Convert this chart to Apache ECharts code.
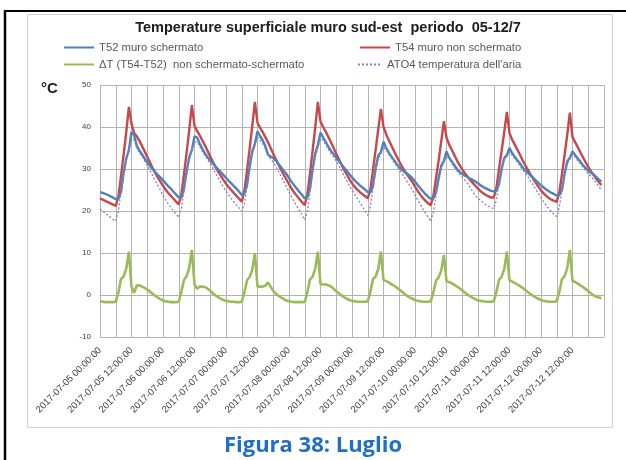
<!DOCTYPE html>
<html>
<head>
<meta charset="utf-8">
<script src="https://cdn.jsdelivr.net/npm/echarts@6/dist/echarts.min.js"></script>
<style>
html,body{margin:0;padding:0;background:#fff;}
#main{width:626px;height:460px;}
</style>
</head>
<body>
<div id="main"></div>
<script>
// Days of the period (hourly readings)
const days = ['2017-07-05','2017-07-06','2017-07-07','2017-07-08','2017-07-09','2017-07-10','2017-07-11','2017-07-12'];
const endLabel = '2017-07-13 00:00:00';
const yTicks = {min: -10, max: 50, step: 10};

// T54 muro non schermato (hourly, one row per day)
const T54 = [
 23.0,22.7,22.4,22.1,21.8,21.5,21.2,23.5,28.3,33.4,38.8,44.8,40.8,38.6,37.8,36.7,35.5,34.2,32.9,31.6,30.3,29.1,28.0,27.0,
 26.0,25.1,24.3,23.6,22.9,22.2,21.6,24.0,28.8,33.9,39.3,45.2,40.3,39.0,38.0,36.8,35.6,34.3,33.0,31.7,30.5,29.4,28.4,27.4,
 26.5,25.7,25.0,24.3,23.6,22.9,22.2,24.8,29.6,34.8,40.2,46.0,41.0,39.8,38.8,37.6,36.4,35.0,33.6,32.3,31.0,29.8,28.6,27.5,
 26.4,25.3,24.4,23.6,22.8,22.1,21.4,24.0,29.0,34.4,40.0,46.0,41.3,40.0,38.9,37.6,36.3,35.0,33.6,32.3,31.0,29.8,28.7,27.6,
 26.6,25.8,25.1,24.5,24.0,23.5,23.0,25.2,29.8,34.6,39.4,44.3,40.1,38.3,36.9,35.6,34.3,33.0,31.8,30.6,29.6,28.7,27.8,26.9,
 25.8,24.8,23.9,23.1,22.4,21.8,21.4,23.6,27.8,32.0,36.6,41.4,37.5,35.8,34.6,33.3,32.0,30.9,29.9,29.0,28.2,27.4,26.7,26.0,
 25.3,24.7,24.2,23.8,23.5,23.2,23.2,25.5,30.0,34.3,38.8,43.6,38.5,37.0,35.8,34.6,33.4,32.1,30.9,29.8,28.7,27.7,26.7,25.8,
 24.9,24.2,23.6,23.1,22.7,22.4,22.2,24.6,28.8,33.4,38.2,43.4,37.6,36.4,35.2,34.0,32.8,31.6,30.5,29.5,28.6,27.7,26.9,26.2
];
// T52 muro schermato
const T52 = [
 24.5,24.3,24.1,23.8,23.5,23.2,22.8,22.9,24.5,29.0,32.5,34.5,38.8,38.1,35.5,34.4,33.5,32.5,31.6,30.8,30.0,29.3,28.6,28.0,
 27.3,26.6,25.9,25.3,24.6,23.9,23.2,23.2,25.2,29.4,32.8,34.5,37.8,37.5,36.0,34.8,33.7,32.8,32.0,31.3,30.6,29.9,29.3,28.6,
 27.9,27.2,26.6,25.9,25.3,24.6,23.8,24.2,26.1,30.5,34.2,36.0,39.0,37.8,36.8,35.4,33.4,33.0,32.6,32.0,31.2,30.4,29.6,28.8,
 27.9,26.9,26.1,25.3,24.5,23.8,23.0,23.3,25.3,30.0,33.7,35.7,38.7,37.5,36.4,35.3,34.3,33.5,32.7,31.9,31.1,30.3,29.6,28.8,
 28.0,27.3,26.7,26.1,25.6,25.1,24.5,24.4,26.0,30.2,33.2,34.0,36.5,35.0,33.9,33.0,32.1,31.2,30.5,29.8,29.3,28.9,28.4,27.8,
 27.0,26.2,25.4,24.7,24.0,23.4,22.9,23.0,24.4,27.8,30.8,31.9,34.2,32.7,31.8,30.9,30.0,29.3,28.8,28.4,28.1,27.7,27.4,27.0,
 26.6,26.1,25.7,25.4,25.1,24.8,24.7,24.8,26.4,30.0,32.6,33.3,35.0,33.8,32.9,32.1,31.3,30.4,29.7,29.1,28.5,27.9,27.3,26.7,
 26.1,25.6,25.1,24.7,24.3,24.0,23.7,23.8,25.0,28.9,31.8,32.7,34.2,33.3,32.5,31.7,30.9,30.2,29.6,29.1,28.7,28.1,27.5,27.0
];
// ΔT (T54-T52) non schermato-schermato
const DT = [
 -1.5,-1.6,-1.7,-1.7,-1.7,-1.7,-1.6,0.6,3.8,4.4,6.3,10.3,2.0,0.5,2.3,2.3,2.0,1.7,1.3,0.8,0.3,-0.2,-0.6,-1.0,
 -1.3,-1.5,-1.6,-1.7,-1.7,-1.7,-1.6,0.8,3.6,4.5,6.5,10.7,2.5,1.5,2.0,2.0,1.9,1.5,1.0,0.4,-0.1,-0.5,-0.9,-1.2,
 -1.4,-1.5,-1.6,-1.6,-1.7,-1.7,-1.6,0.6,3.5,4.3,6.0,10.0,2.0,2.0,2.0,2.2,3.0,2.0,1.0,0.3,-0.2,-0.6,-1.0,-1.3,
 -1.5,-1.6,-1.7,-1.7,-1.7,-1.7,-1.6,0.7,3.7,4.4,6.3,10.3,2.6,2.5,2.5,2.3,2.0,1.5,0.9,0.4,-0.1,-0.5,-0.9,-1.2,
 -1.4,-1.5,-1.6,-1.6,-1.6,-1.6,-1.5,0.8,3.8,4.4,6.2,10.3,3.6,3.3,3.0,2.6,2.2,1.8,1.3,0.8,0.3,-0.2,-0.6,-0.9,
 -1.2,-1.4,-1.5,-1.6,-1.6,-1.6,-1.5,0.6,3.4,4.2,5.8,9.5,3.3,3.1,2.8,2.4,2.0,1.6,1.1,0.6,0.1,-0.3,-0.7,-1.0,
 -1.3,-1.4,-1.5,-1.6,-1.6,-1.6,-1.5,0.7,3.6,4.3,6.2,10.3,3.5,3.2,2.9,2.5,2.1,1.7,1.2,0.7,0.2,-0.2,-0.6,-0.9,
 -1.2,-1.4,-1.5,-1.6,-1.6,-1.6,-1.5,0.8,3.8,4.5,6.4,10.7,3.4,3.1,2.7,2.3,1.9,1.4,0.9,0.4,-0.1,-0.4,-0.6,-0.8
];
// ATO4 temperatura dell'aria
const ATO4 = [
 20.5,20.0,19.5,19.0,18.5,18.0,17.6,20.0,24.5,28.5,32.0,34.5,36.8,37.0,35.0,33.9,33.0,31.9,30.8,29.7,28.5,27.3,26.1,25.0,
 23.8,22.7,21.7,20.8,20.0,19.2,18.5,20.6,25.0,29.0,32.5,34.5,36.3,36.5,35.3,34.2,33.1,32.2,31.3,30.2,29.0,27.9,26.8,25.7,
 24.7,23.8,23.0,22.2,21.4,20.7,20.0,21.6,25.8,30.0,33.5,35.5,37.5,36.8,36.0,34.8,33.0,32.4,31.6,30.6,29.4,28.2,27.0,25.8,
 24.5,23.3,22.2,21.1,20.1,19.0,17.9,20.0,24.6,29.0,32.8,35.0,37.2,36.9,35.8,34.7,33.7,32.8,31.9,30.8,29.6,28.4,27.2,26.0,
 25.0,24.0,23.0,22.0,21.0,20.0,19.0,21.2,25.5,29.4,32.4,33.6,35.2,34.6,33.5,32.5,31.6,30.7,29.9,29.0,28.0,27.0,26.0,25.0,
 23.8,22.7,21.6,20.5,19.5,18.5,17.5,19.8,23.8,27.2,30.0,31.5,33.0,32.4,31.3,30.4,29.5,28.7,28.0,27.3,26.5,25.6,24.6,23.6,
 23.0,22.5,22.0,21.5,21.1,20.8,20.6,22.6,26.5,29.8,32.2,33.0,34.0,33.3,32.4,31.6,30.7,29.8,29.0,28.2,27.2,26.2,25.2,24.2,
 23.2,22.2,21.3,20.5,19.8,19.2,18.7,21.0,25.0,28.5,31.2,32.4,33.4,32.9,32.0,31.2,30.4,29.6,28.9,28.2,27.5,26.7,25.9,25.0
];

const categories = [];
days.forEach(d => {
  for (let h = 0; h < 24; h++) categories.push(d + ' ' + String(h).padStart(2, '0') + ':00:00');
});
categories.push(endLabel);

const COL = {t52: '#4F81BD', t54: '#C8484A', dt: '#9BBB59', air: '#8C7DBF'};
const NAMES = ['T52 muro schermato', 'T54 muro non schermato', '\u0394T (T54-T52)  non schermato-schermato', 'ATO4 temperatura dell\'aria'];

const chart = echarts.init(document.getElementById('main'), null, {renderer: 'canvas'});
const legendText = {fontSize: 11.3, color: '#595959', fontFamily: 'Liberation Sans'};
const mkLegend = (name, left, top, w) => ({
  data: [name], left: left, top: top, itemWidth: w, itemHeight: 10, itemGap: 4,
  textStyle: legendText, selectedMode: false, itemStyle: {opacity: 0}
});

chart.setOption({
  animation: false,
  backgroundColor: '#fff',
  title: {
    text: 'Temperature superficiale muro sud-est  periodo  05-12/7',
    left: 323, top: 15, textAlign: 'center',
    textStyle: {fontSize: 14.5, fontWeight: 'bold', color: '#202020', fontFamily: 'Liberation Sans'}
  },
  legend: [
    mkLegend(NAMES[0], 58, 37, 30),
    mkLegend(NAMES[1], 354, 37, 30),
    mkLegend(NAMES[2], 58, 54, 30),
    mkLegend(NAMES[3], 352, 54, 24)
  ],
  grid: {left: 100, right: 22, top: 85, bottom: 123},
  xAxis: {
    type: 'category', data: categories, boundaryGap: false,
    axisLine: {lineStyle: {color: '#b0b0b0'}},
    axisTick: {show: false},
    axisLabel: {
      interval: (i) => i % 12 === 0 && i < 192,
      rotate: 45, fontSize: 9.5, color: '#404040', margin: 12, fontFamily: 'Liberation Sans'
    },
    splitLine: {show: true, interval: (i) => i % 6 === 0, lineStyle: {color: '#b4b4b4', width: 1}}
  },
  yAxis: {
    type: 'value', min: yTicks.min, max: yTicks.max, interval: yTicks.step,
    axisLine: {show: false}, axisTick: {show: false},
    axisLabel: {fontSize: 8, color: '#404040', margin: 9, fontFamily: 'Liberation Sans'},
    splitLine: {lineStyle: {color: '#b4b4b4', width: 1}}
  },
  series: [
    {name: NAMES[1], type: 'line', data: T54, symbol: 'none', lineStyle: {color: COL.t54, width: 2.4}, itemStyle: {color: COL.t54}},
    {name: NAMES[0], type: 'line', data: T52, symbol: 'none', lineStyle: {color: COL.t52, width: 2.4}, itemStyle: {color: COL.t52}},
    {name: NAMES[3], type: 'line', data: ATO4, symbol: 'none', lineStyle: {color: COL.air, width: 1.3, type: [2, 2]}, itemStyle: {color: COL.air}},
    {name: NAMES[2], type: 'line', data: DT, symbol: 'none', lineStyle: {color: COL.dt, width: 2.6}, itemStyle: {color: COL.dt}}
  ],
  graphic: [
    {type: 'rect', shape: {x: 27.5, y: 14.5, width: 585, height: 413}, style: {fill: 'none', stroke: '#d0d0d0', lineWidth: 1}, z: -1},
    {type: 'line', shape: {x1: 5, y1: 11, x2: 626, y2: 11}, style: {stroke: '#000', lineWidth: 2}},
    {type: 'line', shape: {x1: 5, y1: 10, x2: 5, y2: 460}, style: {stroke: '#000', lineWidth: 2.5}},
    {type: 'text', left: 41, top: 81, style: {text: '\u00B0C', fontSize: 15, fontWeight: 'bold', fill: '#202020', fontFamily: 'Liberation Sans'}},
    {type: 'text', left: 'center', top: 435, style: {text: 'Figura 38: Luglio', fontSize: 22, fontWeight: 'bold', fill: '#1F6FC5', fontFamily: 'Open Sans'}}
  ]
});
</script>
</body>
</html>
